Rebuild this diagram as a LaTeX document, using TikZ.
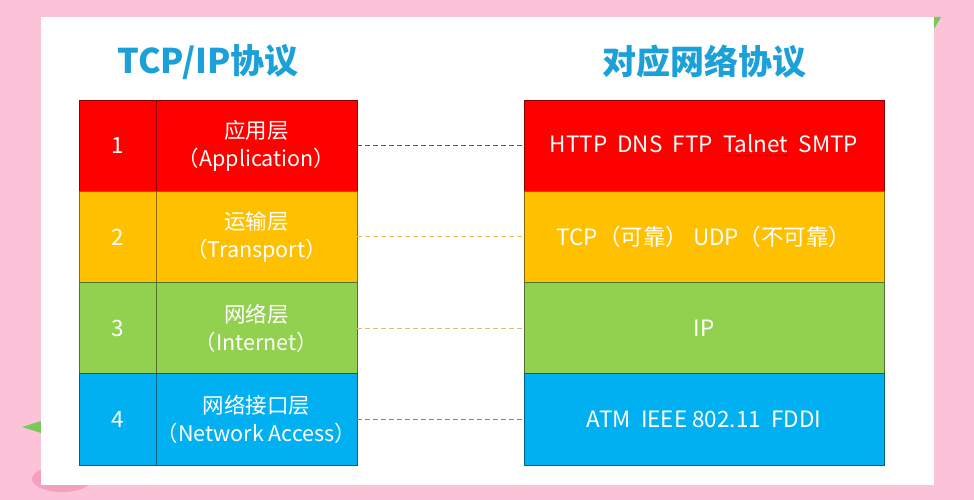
\documentclass[tikz,border=0pt]{standalone}
\usepackage{fontspec}
\setmainfont{Noto Sans CJK SC}
\usetikzlibrary{positioning,decorations.pathmorphing}

\definecolor{bgpink}{RGB}{252,194,216}
\definecolor{blobpink}{RGB}{246,160,192}
\definecolor{leafgreen}{RGB}{120,200,90}
\definecolor{titleblue}{RGB}{28,160,216}
\definecolor{layerred}{RGB}{255,0,0}
\definecolor{layeryellow}{RGB}{255,192,0}
\definecolor{layergreen}{RGB}{146,208,80}
\definecolor{layerblue}{RGB}{0,176,240}
\definecolor{linkred}{RGB}{185,45,50}
\definecolor{linkyellow}{RGB}{245,185,75}
\definecolor{linktan}{RGB}{215,190,115}
\definecolor{linkblue}{RGB}{60,150,200}

\tikzset{
  cell/.style={draw=#1!55!black, fill=#1, line width=0.8pt, outer sep=0pt, inner sep=0pt,
    minimum height=91.25pt, text=white, font=\fontsize{22.5}{28}\selectfont, align=center},
  numcell/.style={cell=#1, minimum width=77pt},
  namecell/.style={cell=#1, minimum width=201pt, font=\fontsize{21.5}{27.5}\selectfont},
  protocell/.style={cell=#1, minimum width=360pt},
  link/.style={dash pattern=on 5pt off 3pt, line width=1pt},
  title/.style={text=titleblue, font=\fontsize{34}{40}\selectfont\bfseries}
}

% wavy spell-check underline
\newcommand{\wavyword}[1]{\tikz[baseline=(w.base)]{
	\node[draw=none, fill=none, minimum width=0pt, minimum height=0pt,
		inner sep=0pt, outer sep=0pt, text=white] (w) {#1};
	\draw[decorate, decoration={snake, amplitude=0.5pt, segment length=3pt}, red!75!black, line width=0.6pt]
		([yshift=-2.5pt]w.south west) -- ([yshift=-2.5pt]w.south east);
}}

\begin{document}
\begin{tikzpicture}[x=1pt,y=-1pt]
\useasboundingbox (0,0) rectangle (974,500);

% BACKGROUND
\fill[bgpink] (0,0) rectangle (974,500);
\fill[blobpink] (62,479) ellipse (30pt and 13pt);
\fill[leafgreen] (22,427) -- (41,421) -- (41,433) -- cycle;
\fill[leafgreen] (932,17) -- (941,17) -- (934,29) -- cycle;
\fill[white] (41,17) rectangle (934,485);

% TITLES
\node[title] (ltitle) at (208,62) {TCP/IP协议};
\node[title] (rtitle) at (704,62) {对应网络协议};

% TCP/IP LAYERS
\node[numcell=layerred, anchor=north west] (n1) at (79,100) {1};
\node[namecell=layerred, right=0pt of n1] (l1) {应用层\\（Application）};
\node[numcell=layeryellow, below=0pt of n1] (n2) {2};
\node[namecell=layeryellow, right=0pt of n2] (l2) {运输层\\（Transport）};
\node[numcell=layergreen, below=0pt of n2] (n3) {3};
\node[namecell=layergreen, right=0pt of n3] (l3) {网络层\\（Internet）};
\node[numcell=layerblue, below=0pt of n3] (n4) {4};
\node[namecell=layerblue, right=0pt of n4] (l4) {网络接口层\\（Network Access）};

% PROTOCOLS
\node[protocell=layerred, anchor=north west] (p1) at (524,100) {HTTP~~DNS~~FTP~~\wavyword{Talnet}~~SMTP};
\node[protocell=layeryellow, below=0pt of p1] (p2) {TCP（可靠）~UDP（不可靠）};
\node[protocell=layergreen, below=0pt of p2] (p3) {IP};
\node[protocell=layerblue, below=0pt of p3] (p4) {ATM~~IEEE 802.11~~FDDI};

% LINKS
\draw[link, linkred] (l1.east) -- (p1.west);
\draw[link, linkyellow] (l2.east) -- (p2.west);
\draw[link, linktan] (l3.east) -- (p3.west);
\draw[link, linkblue] (l4.east) -- (p4.west);
\end{tikzpicture}
\end{document}
